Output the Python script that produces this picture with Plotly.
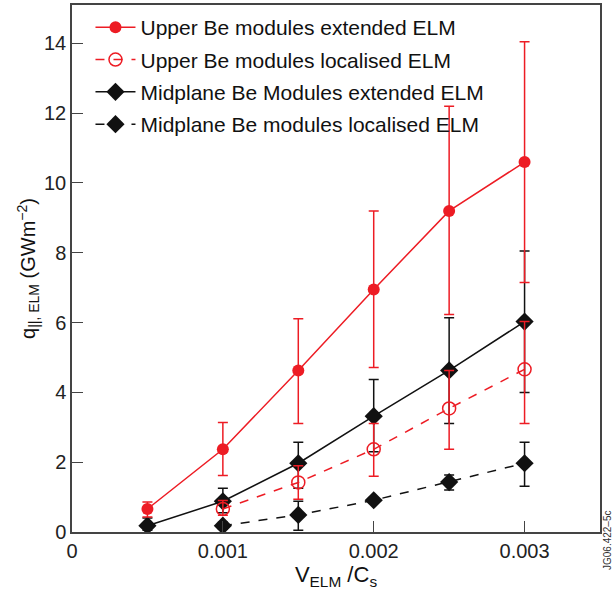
import plotly.graph_objects as go

x_vals = [0.0005, 0.001, 0.0015, 0.002, 0.0025, 0.003]

# Upper Be modules extended ELM
ue_y = [0.66, 2.37, 4.63, 6.95, 9.2, 10.6]
ue_hi = [0.86, 3.14, 6.11, 9.2, 12.2, 14.05]
ue_lo = [0.43, 1.62, 3.11, 4.71, 6.23, 7.15]

# Upper Be modules localised ELM
ul_x = [0.001, 0.0015, 0.002, 0.0025, 0.003]
ul_y = [0.66, 1.42, 2.37, 3.54, 4.66]
ul_hi = [0.9, 1.9, 3.11, 4.63, 6.03]
ul_lo = [0.48, 0.94, 1.6, 2.37, 3.11]

# Midplane Be Modules extended ELM
me_y = [0.18, 0.88, 1.97, 3.32, 4.63, 6.03]
me_hi = [0.4, 1.25, 2.57, 4.37, 6.14, 8.05]
me_lo = [0.05, 0.55, 1.25, 2.3, 3.11, 4.0]

# Midplane Be modules localised ELM
ml_x = [0.001, 0.0015, 0.002, 0.0025, 0.003]
ml_y = [0.18, 0.49, 0.91, 1.43, 1.97]
ml_hi = [0.28, 0.88, 0.91, 1.63, 2.57]
ml_lo = [0.08, 0.05, 0.91, 1.2, 1.31]

names = [
    "Upper Be modules extended ELM",
    "Upper Be modules localised ELM",
    "Midplane Be Modules extended ELM",
    "Midplane Be modules localised ELM",
]

RED = "#ED1C24"
BLK = "#111111"

def err(y, hi, lo, color):
    return dict(type="data", symmetric=False,
                array=[h - v for h, v in zip(hi, y)],
                arrayminus=[v - l for v, l in zip(y, lo)],
                color=color, thickness=1.5, width=5)

fig = go.Figure()
fig.add_trace(go.Scatter(x=ml_x, y=ml_y, name=names[3], mode="lines+markers",
    line=dict(color=BLK, width=1.5, dash="dash"),
    marker=dict(symbol="diamond", size=14, color=BLK),
    error_y=err(ml_y, ml_hi, ml_lo, BLK), legendgroup="d", legendrank=4))
fig.add_trace(go.Scatter(x=x_vals, y=me_y, name=names[2], mode="lines+markers",
    line=dict(color=BLK, width=1.5),
    marker=dict(symbol="diamond", size=14, color=BLK),
    error_y=err(me_y, me_hi, me_lo, BLK), legendgroup="c", legendrank=3))
fig.add_trace(go.Scatter(x=ul_x, y=ul_y, name=names[1], mode="lines+markers",
    line=dict(color=RED, width=1.5, dash="dash"),
    marker=dict(symbol="circle-open", size=13, color=RED, line=dict(width=1.5)),
    error_y=err(ul_y, ul_hi, ul_lo, RED), legendgroup="b", legendrank=2))
fig.add_trace(go.Scatter(x=x_vals, y=ue_y, name=names[0], mode="lines+markers",
    line=dict(color=RED, width=1.5),
    marker=dict(symbol="circle", size=12, color=RED),
    error_y=err(ue_y, ue_hi, ue_lo, RED), legendgroup="a", legendrank=1))

axis_common = dict(showline=True, linecolor="#444", linewidth=1.5, mirror=True,
                   ticks="inside", ticklen=11, tickcolor="#444", tickwidth=1.2,
                   showgrid=False, zeroline=False,
                   tickfont=dict(family="Liberation Sans, Arial", size=20, color="#222"))

fig.update_layout(
    width=613, height=594,
    margin=dict(l=72, r=13, t=3, b=62),
    plot_bgcolor="white", paper_bgcolor="white",
    font=dict(family="Liberation Sans, Arial", color="#111"),
    xaxis=dict(range=[0, 0.0035], tickvals=[0, 0.001, 0.002, 0.003],
               ticktext=["0", "0.001", "0.002", "0.003"],
               title=dict(text="V<sub>ELM</sub> /C<sub>s</sub>", font=dict(size=22), standoff=6),
               **axis_common),
    yaxis=dict(range=[0, 15.1], tickvals=list(range(0, 15, 2)),
               title=dict(text="q<sub>||, ELM</sub> (GWm<sup>\u22122</sup>)", font=dict(size=20), standoff=3),
               **axis_common),
    legend=dict(x=0.035, y=0.996, xanchor="left", yanchor="top",
                font=dict(size=21, color="#111"), bgcolor="rgba(0,0,0,0)",
                tracegroupgap=2, itemwidth=40),
    showlegend=True,
)

fig.add_annotation(text="JG06.422\u20135c", xref="paper", yref="paper",
                   x=1.0, y=0.0, xanchor="center", yanchor="middle", xshift=7, yshift=-8,
                   textangle=-90, showarrow=False,
                   font=dict(family="Liberation Sans, Arial", size=10, color="#333"))

fig.write_html("out.html")
